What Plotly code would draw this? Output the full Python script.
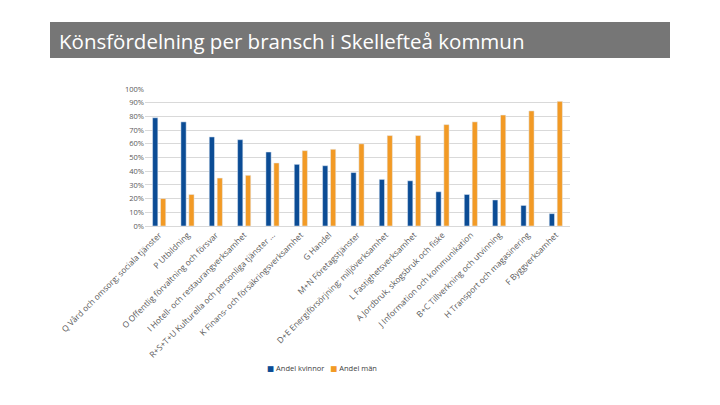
import plotly.graph_objects as go

categories = [
    "Q Vård och omsorg; sociala tjänster",
    "P Utbildning",
    "O Offentlig förvaltning och försvar",
    "I Hotell- och restaurangverksamhet",
    "R+S+T+U Kulturella och personliga tjänster ...",
    "K Finans- och försäkringsverksamhet",
    "G Handel",
    "M+N Företagstjänster",
    "D+E Energiförsörjning; miljöverksamhet",
    "L Fastighetsverksamhet",
    "A Jordbruk, skogsbruk och fiske",
    "J Information och kommunikation",
    "B+C Tillverkning och utvinning",
    "H Transport och magasinering",
    "F Byggverksamhet",
]
andel_kvinnor = [0.79, 0.76, 0.65, 0.63, 0.54, 0.45, 0.44, 0.39, 0.34, 0.33, 0.25, 0.23, 0.19, 0.15, 0.09]
andel_man = [0.20, 0.23, 0.35, 0.37, 0.46, 0.55, 0.56, 0.60, 0.66, 0.66, 0.74, 0.76, 0.81, 0.84, 0.91]
y_ticks = [i / 10 for i in range(11)]
series_names = ["Andel kvinnor", "Andel män"]
series_colors = ["#0B4C95", "#F29A25"]

fig = go.Figure()
fig.add_trace(go.Bar(x=categories, y=andel_kvinnor, name=series_names[0], marker_color=series_colors[0], showlegend=False))
fig.add_trace(go.Bar(x=categories, y=andel_man, name=series_names[1], marker_color=series_colors[1], showlegend=False))

L, R, T, B = 145, 150, 89, 179
W, H = 720, 405
pw, ph = W - L - R, H - T - B

def px(x):
    return (x - L) / pw

def py(y):
    return (H - B - y) / ph

legend_text = "&nbsp;&nbsp;&nbsp;".join(
    f'<span style="color:{c}">■</span>&nbsp;{n}' for n, c in zip(series_names, series_colors)
)

fig.update_layout(
    width=W, height=H,
    margin=dict(l=L, r=R, t=T, b=B),
    paper_bgcolor="white", plot_bgcolor="white",
    barmode="group", bargap=0.44, bargroupgap=0.34,
    font=dict(family="Open Sans, DejaVu Sans, sans-serif", size=7, color="#595959"),
    shapes=[dict(type="rect", xref="paper", yref="paper",
                 x0=px(50), x1=px(670), y0=py(58), y1=py(22),
                 fillcolor="#767676", line=dict(width=0), layer="below")],
    annotations=[
        dict(text="Könsfördelning per bransch i Skellefteå kommun",
             xref="paper", yref="paper", x=px(57), y=py(41),
             xanchor="left", yanchor="middle", showarrow=False,
             font=dict(family="Open Sans, DejaVu Sans, sans-serif", size=20.5, color="white")),
        dict(text=legend_text, xref="paper", yref="paper", x=px(322), y=py(368),
             xanchor="center", yanchor="middle", showarrow=False,
             font=dict(size=7.5, color="#404040")),
    ],
)
fig.update_yaxes(range=[0, 1.0], tickvals=y_ticks, tickformat=".0%",
                 showgrid=True, gridcolor="#D9D9D9", gridwidth=1, zeroline=False,
                 showline=False, ticks="", tickfont=dict(size=7.5, color="#595959"))
fig.update_xaxes(tickangle=-45, showline=True, linecolor="#D9D9D9", ticks="",
                 tickfont=dict(size=8.3, color="#595959"))

fig.write_html("out.html")
